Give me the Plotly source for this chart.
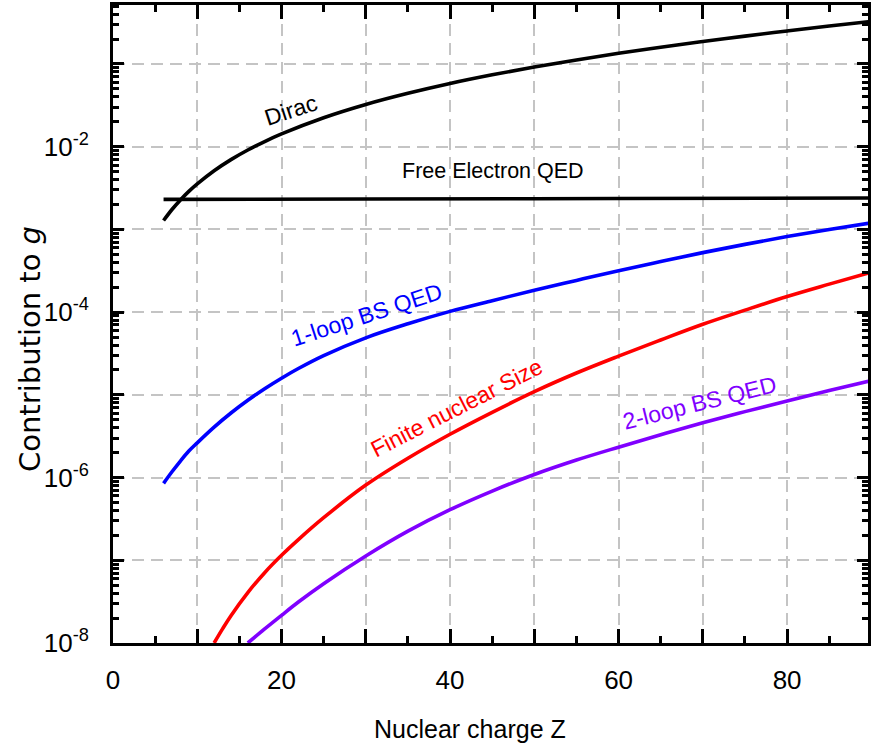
import plotly.graph_objects as go

# ---------------- data ----------------
z_dirac = [6, 7, 8, 9, 10, 12, 14, 16, 18, 20, 25, 30, 35, 40, 45, 50, 55, 60, 65, 70, 75, 80, 85, 90]
g_dirac = [0.00128, 0.00174, 0.00227, 0.00288, 0.00355, 0.00512, 0.00698, 0.00912, 0.01155,
           0.01428, 0.0224, 0.0324, 0.0442, 0.0581, 0.0739, 0.0919, 0.112, 0.1346, 0.1595,
           0.187, 0.217, 0.251, 0.2875, 0.328]

z_free = [6, 30, 60, 90]
g_free = [0.00231, 0.00233, 0.00236, 0.00240]

z_1loop = [6, 7, 8, 9, 10, 12, 14, 16, 18, 20, 22, 25, 30, 35, 40, 45, 50, 55, 60, 65, 70, 75, 80, 85, 90]
g_1loop = [8.51e-7, 1.175e-6, 1.585e-6, 2.09e-6, 2.63e-6, 4.07e-6, 6.03e-6, 8.59e-6, 1.186e-5,
           1.59e-5, 2.08e-5, 2.98e-5, 4.89e-5, 7.23e-5, 1.021e-4, 1.377e-4, 1.837e-4, 2.42e-4,
           3.17e-4, 4.09e-4, 5.24e-4, 6.59e-4, 8.20e-4, 9.98e-4, 1.20e-3]

z_fns = [12, 13, 14, 16, 18, 20, 22, 25, 30, 35, 40, 45, 50, 55, 60, 65, 70, 75, 80, 85, 90]
g_fns = [1.0e-8, 1.48e-8, 2.14e-8, 4.07e-8, 7.08e-8, 1.148e-7, 1.778e-7, 3.27e-7, 8.11e-7,
         1.714e-6, 3.34e-6, 6.15e-6, 1.094e-5, 1.837e-5, 2.94e-5, 4.61e-5, 7.14e-5, 1.057e-4,
         1.545e-4, 2.18e-4, 3.05e-4]

z_2loop = [16, 18, 20, 22, 25, 30, 35, 40, 45, 50, 55, 60, 65, 70, 75, 80, 85, 90]
g_2loop = [1.0e-8, 1.48e-8, 2.16e-8, 3.13e-8, 5.21e-8, 1.127e-7, 2.25e-7, 4.09e-7, 6.87e-7,
           1.089e-6, 1.629e-6, 2.33e-6, 3.29e-6, 4.59e-6, 6.27e-6, 8.45e-6, 1.127e-5, 1.486e-5]

x_labeled = [0, 20, 40, 60, 80]
x_labels = ["0", "20", "40", "60", "80"]
x_tens = [0, 10, 20, 30, 40, 50, 60, 70, 80]
x_odd_tens = [10, 30, 50, 70]
x_fives = [5, 15, 25, 35, 45, 55, 65, 75, 85]

y_labeled_exp = [-8, -6, -4, -2]
y_labeled = [10.0 ** e for e in y_labeled_exp]
y_labels = ["10<sup>%d</sup>" % e for e in y_labeled_exp]
y_decades = [10.0 ** e for e in range(-8, 0)]
y_odd_decades = [10.0 ** e for e in (-7, -5, -3, -1)]
y_minor = [k * 10.0 ** e for e in range(-8, 0) for k in range(2, 10)]

# ---------------- figure ----------------
W, H = 873, 749
L, R, T, B = 113, 868, 5, 643   # plot-area pixel edges
XR = [0, 89.6]
YR = [-8, -0.287]


def paper(px, py):
    return (px - L) / (R - L), (B - py) / (B - T)


FONT = "Liberation Sans, Arial, sans-serif"
GRID = dict(showgrid=True, gridcolor="#c4c4c4", gridwidth=1.5, griddash="12px,7px")
MAJ = dict(ticks="inside", tickwidth=3, tickcolor="black")
MIN = dict(ticks="inside", tickwidth=2.5, tickcolor="black")
BARE = dict(showticklabels=False, showgrid=False, showline=False, zeroline=False,
            tickmode="array", automargin=False)

fig = go.Figure()
series = [
    (z_dirac, g_dirac, "black"),
    (z_free, g_free, "black"),
    (z_1loop, g_1loop, "#0000ff"),
    (z_fns, g_fns, "#ff0000"),
    (z_2loop, g_2loop, "#8000ff"),
]
for zs, gs, col in series:
    fig.add_trace(go.Scatter(x=zs, y=gs, mode="lines",
                             line=dict(color=col, width=3.6, shape="spline", smoothing=1.0),
                             hoverinfo="skip"))
# invisible carriers for the extra tick axes
fig.add_trace(go.Scatter(x=[None], y=[None], xaxis="x2", yaxis="y2", mode="lines",
                         hoverinfo="skip"))
fig.add_trace(go.Scatter(x=[None], y=[None], xaxis="x3", yaxis="y3", mode="lines",
                         hoverinfo="skip"))

fig.update_layout(
    xaxis=dict(range=XR, tickmode="array", tickvals=x_labeled, ticktext=x_labels,
               ticklen=14, **MAJ, showline=True, linewidth=3, linecolor="black", mirror=True,
               zeroline=False, automargin=False, ticklabelstandoff=12,
               tickfont=dict(family=FONT, size=26, color="black"),
               minor=dict(tickmode="array", tickvals=x_odd_tens, ticklen=14, **MAJ,
                          showgrid=True, gridcolor="#c4c4c4", gridwidth=1.5,
                          griddash="12px,7px"),
               **GRID),
    yaxis=dict(type="log", range=YR, tickmode="array", tickvals=y_labeled, ticktext=y_labels,
               ticklen=11, **MAJ, showline=True, linewidth=3, linecolor="black", mirror=True,
               zeroline=False, automargin=False, ticklabelstandoff=16,
               tickfont=dict(family=FONT, size=26, color="black"),
               minor=dict(tickmode="array", tickvals=y_odd_decades, ticklen=11, **MAJ,
                          showgrid=True, gridcolor="#c4c4c4", gridwidth=1.5,
                          griddash="12px,7px"),
               **GRID),
    # top axis: ticks every 10 and every 5
    xaxis2=dict(overlaying="x", side="top", anchor="y", range=XR, tickvals=x_tens,
                ticklen=14, **MAJ, **BARE,
                minor=dict(tickmode="array", tickvals=x_fives, ticklen=7, **MIN)),
    # right axis: decades and 2..9
    yaxis2=dict(overlaying="y", side="right", anchor="x", type="log", range=YR,
                tickvals=y_decades, ticklen=11, **MAJ, **BARE,
                minor=dict(tickmode="array", tickvals=y_minor, ticklen=6, **MIN)),
    # bottom short ticks (x = 5, 15, ...)
    xaxis3=dict(overlaying="x", side="bottom", anchor="y", range=XR, tickvals=x_fives,
                ticklen=7, **MIN, **BARE),
    # left short ticks (2..9 per decade)
    yaxis3=dict(overlaying="y", side="left", anchor="x", type="log", range=YR,
                tickvals=y_minor, ticklen=6, **MIN, **BARE),
)

annos = [
    ("Dirac", 291, 110, -18, "black", 23),
    ("Free Electron QED", 493, 171, 0, "black", 21.5),
    ("1-loop BS QED", 366, 315, -18, "#0000ff", 23),
    ("Finite nuclear Size", 456, 408, -27, "#ff0000", 23),
    ("2-loop BS QED", 699, 403, -14, "#8000ff", 23),
]
for txt, px, py, ang, col, sz in annos:
    ax_, ay_ = paper(px, py)
    fig.add_annotation(x=ax_, y=ay_, xref="paper", yref="paper", text=txt, showarrow=False,
                       textangle=ang, xanchor="center", yanchor="middle",
                       font=dict(family=FONT, size=sz, color=col))

tx, ty = paper(470, 729)
fig.add_annotation(x=tx, y=ty, xref="paper", yref="paper", text="Nuclear charge Z",
                   showarrow=False, xanchor="center", yanchor="middle",
                   font=dict(family=FONT, size=25, color="black"))
yx, yy = paper(30, 349)
fig.add_annotation(x=yx, y=yy, xref="paper", yref="paper", text="Contribution to <i>g</i>",
                   showarrow=False, textangle=-90, xanchor="center", yanchor="middle",
                   font=dict(family="DejaVu Sans, Verdana, sans-serif", size=29, color="black"))

fig.update_layout(width=W, height=H, showlegend=False, hovermode=False,
                  margin=dict(l=L, r=W - R, t=T, b=H - B, pad=0),
                  plot_bgcolor="white", paper_bgcolor="white")

# remove the default 8px page margin so the figure sits at the window's top-left corner
fig.write_html("out.html", config={"displayModeBar": False},
               post_script="document.body.style.margin='0';"
                           "document.body.style.overflow='hidden';")
